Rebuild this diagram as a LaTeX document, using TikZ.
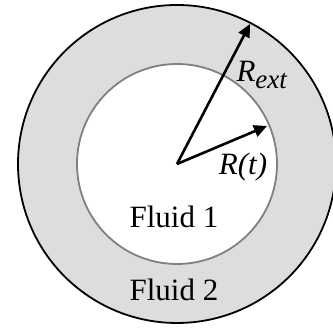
\documentclass[tikz,border=0pt]{standalone}
\usepackage{fontspec}
\setmainfont{Liberation Serif}
\usetikzlibrary{arrows.meta}
\definecolor{ringgray}{HTML}{DDDDDD}
\definecolor{innergray}{HTML}{808080}
\begin{document}
\begin{tikzpicture}[x=1pt,y=1pt,
  radarrow/.style={line width=2.6pt,-{Triangle[length=13pt,width=12pt]}},
  lbl/.style={font=\fontsize{31}{31}\selectfont,inner sep=0pt}]
\useasboundingbox (0,0) rectangle (333,328);
\fill[white] (0,0) rectangle (333,328);
\coordinate (c) at (177,164);
\draw[line width=1.8pt,fill=ringgray] (c) circle[radius=159];
\draw[line width=1.8pt,draw=innergray,fill=white] (c) circle[radius=100];
\coordinate (te) at (250,304);
\coordinate (ti) at (267,202);
\draw[radarrow] (c) -- (te);
\draw[radarrow] (c) -- (ti);
\node[lbl] (rext) at (262,253) {\textit{R}\raisebox{-7pt}{\fontsize{27}{27}\selectfont\textit{ext}}};
\node[lbl] (rt) at (243,161) {\textit{R(t)}};
\node[lbl] (f1) at (174,111) {Fluid 1};
\node[lbl] (f2) at (174,38) {Fluid 2};
\end{tikzpicture}
\end{document}
